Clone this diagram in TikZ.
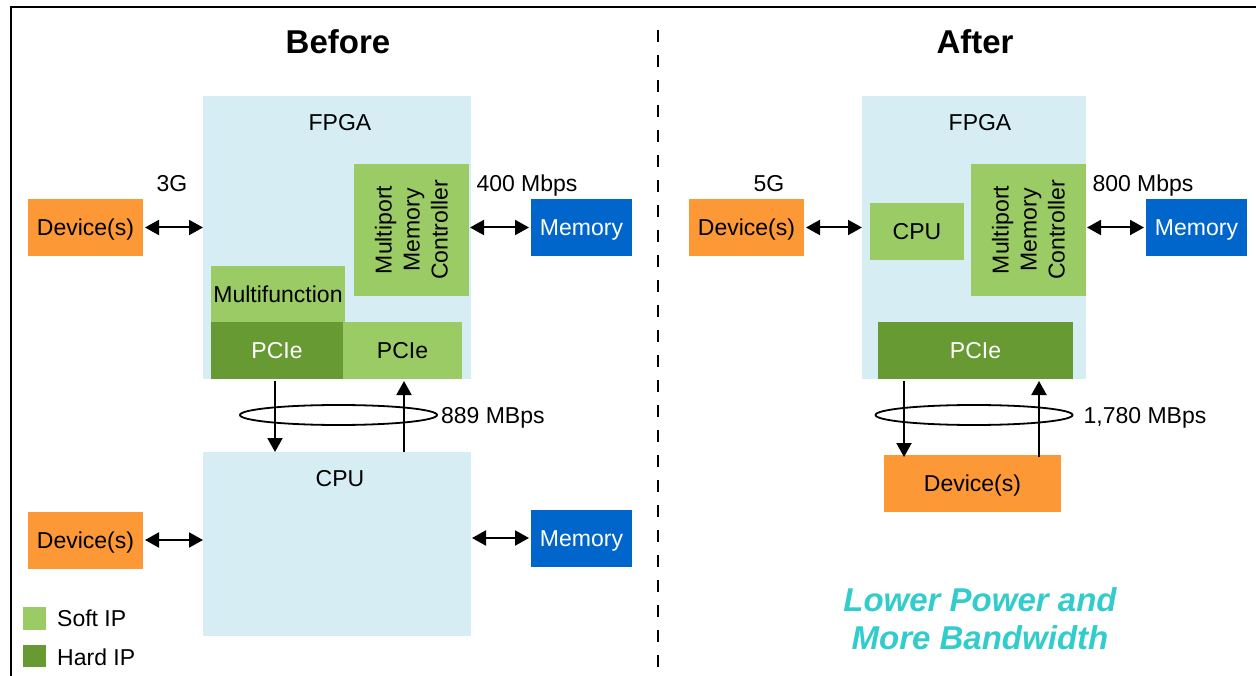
\documentclass[tikz,border=0pt]{standalone}
\usepackage{fontspec}
\setmainfont{Liberation Sans}
\usetikzlibrary{arrows.meta,shapes.geometric,calc}
\definecolor{fpgablue}{RGB}{214,237,244}
\definecolor{softgreen}{RGB}{155,203,100}
\definecolor{hardgreen}{RGB}{103,154,51}
\definecolor{devorange}{RGB}{253,152,55}
\definecolor{memblue}{RGB}{0,102,204}
\definecolor{tealtext}{RGB}{51,204,204}
\tikzset{
  x=1pt,y=-1pt,
  lbl/.style={font=\fontsize{23}{27}\selectfont, inner sep=0pt, text height=16.5pt, text depth=0pt},
  blk/.style={inner sep=0pt, outer sep=0pt, font=\fontsize{23}{27}\selectfont, text height=16.5pt, text depth=0pt},
  fpgabox/.style={blk, fill=fpgablue},
  softbox/.style={blk, fill=softgreen},
  hardbox/.style={blk, fill=hardgreen, text=white},
  devbox/.style={blk, fill=devorange},
  membox/.style={blk, fill=memblue, text=white},
  mmcbox/.style={softbox, rotate=90, align=center, text height=, text depth=, font=\fontsize{23}{28}\selectfont},
  dbl/.style={line width=2pt, {Triangle[length=14pt,width=15pt]}-{Triangle[length=14pt,width=15pt]}},
  arr/.style={line width=2pt, -{Triangle[length=14pt,width=15pt]}},
  ring/.style={draw, ellipse, line width=1.8pt, inner sep=0pt},
  title/.style={font=\fontsize{33}{37}\selectfont\bfseries, inner sep=0pt},
}
\begin{document}
\begin{tikzpicture}
\useasboundingbox (0,0) rectangle (1256,676);
% frame
\coordinate (fc) at (11,7);
\coordinate (fbl) at (11,680);
\coordinate (ftr) at (1260,7);
\draw[line width=2.4pt] (fbl) -- (fc) -- (ftr);
% divider
\coordinate (dt) at (658,30);
\coordinate (db) at (658,670);
\draw[line width=2pt, dash pattern=on 12pt off 13pt] (dt) -- (db);

% titles
\node[title] (tB) at (338,42) {Before};
\node[title] (tA) at (975,42) {After};

%%%%%%%% BEFORE
\node[fpgabox, minimum width=268, minimum height=283] (fpgaB) at (337,237.5) {};
\node[lbl] (fpgaBl) at (340,122) {FPGA};
\node[mmcbox, minimum width=132, minimum height=115] (mmcB) at (411.5,230) {Multiport\\Memory\\Controller};
\node[softbox, minimum width=134, minimum height=56] (mfB) at (278,294) {Multifunction};
\node[hardbox, minimum width=132, minimum height=57] (pcieB1) at (277,350.5) {PCIe};
\node[softbox, minimum width=119, minimum height=57] (pcieB2) at (402.5,350.5) {PCIe};
\node[fpgabox, minimum width=268, minimum height=184] (cpuB) at (337,544) {};
\node[lbl] (cpuBl) at (340,478) {CPU};

\node[devbox, minimum width=115, minimum height=57] (devB1) at (85.5,227.5) {Device(s)};
\node[devbox, minimum width=115, minimum height=57] (devB2) at (85.5,540) {Device(s)};
\node[membox, minimum width=101, minimum height=57] (memB1) at (581.5,227.5) {Memory};
\node[membox, minimum width=101, minimum height=57] (memB2) at (581.5,538) {Memory};

\node[lbl] (g3) at (172,183) {3G};
\node[lbl] (m400) at (527,183) {400 Mbps};

\draw[dbl] ([xshift=2pt]devB1.east) -- (devB1.east -| fpgaB.west);
\draw[dbl] ([xshift=1pt]mmcB.south |- memB1.west) -- ([xshift=-2pt]memB1.west);
\draw[dbl] ([xshift=2pt]devB2.east) -- (devB2.east -| cpuB.west);
\draw[dbl] ([xshift=1pt]cpuB.east |- memB2.west) -- ([xshift=-2pt]memB2.west);

\coordinate (xd1) at (275,0);
\coordinate (xu1) at (404,0);
\draw[arr] ([yshift=-2pt]pcieB1.south -| xd1) -- (cpuB.north -| xd1);
\draw[arr] (cpuB.north -| xu1) -- ([yshift=-2pt]pcieB2.south -| xu1);
\node[ring, minimum width=197, minimum height=20] (ellB) at (338.5,415) {};
\node[lbl, anchor=west] (bwB) at ([xshift=3pt]ellB.east) {889 MBps};

% legend
\node[softbox, minimum width=23, minimum height=23] (lgS) at (34.5,618.5) {};
\node[hardbox, minimum width=23, minimum height=22] (lgH) at (34.5,655.5) {};
\node[lbl, anchor=west] (lgSt) at (57,618) {Soft IP};
\node[lbl, anchor=west] (lgHt) at (57,657) {Hard IP};

%%%%%%%% AFTER
\node[fpgabox, minimum width=224, minimum height=283] (fpgaA) at (974,237.5) {};
\node[lbl] (fpgaAl) at (980,122) {FPGA};
\node[softbox, minimum width=94, minimum height=57] (cpuA) at (917,231.5) {CPU};
\node[mmcbox, minimum width=132, minimum height=115] (mmcA) at (1028.5,230) {Multiport\\Memory\\Controller};
\node[hardbox, minimum width=195, minimum height=57] (pcieA) at (975.5,350.5) {PCIe};

\node[devbox, minimum width=115, minimum height=57] (devA1) at (746.5,227.5) {Device(s)};
\node[membox, minimum width=101, minimum height=57] (memA) at (1196.5,227.5) {Memory};
\node[devbox, minimum width=177, minimum height=57] (devA2) at (972.5,483.5) {Device(s)};

\node[lbl] (g5) at (769,183) {5G};
\node[lbl] (m800) at (1143,183) {800 Mbps};

\draw[dbl] ([xshift=2pt]devA1.east) -- (devA1.east -| fpgaA.west);
\draw[dbl] ([xshift=1pt]mmcA.south |- memA.west) -- ([xshift=-2pt]memA.west);

\coordinate (xd2) at (904,0);
\coordinate (xu2) at (1039,0);
\draw[arr] ([yshift=-2pt]pcieA.south -| xd2) -- ([yshift=-2pt]devA2.north -| xd2);
\draw[arr] ([yshift=-2pt]devA2.north -| xu2) -- ([yshift=-2pt]pcieA.south -| xu2);
\node[ring, minimum width=197, minimum height=20] (ellA) at (974,415) {};
\node[lbl, anchor=west] (bwA) at ([xshift=10pt]ellA.east) {1,780 MBps};

\node[font=\fontsize{33}{38}\selectfont\bfseries\itshape, text=tealtext, align=center, inner sep=0pt] (slogan) at (980,619) {Lower Power and\\More Bandwidth};
\end{tikzpicture}
\end{document}
